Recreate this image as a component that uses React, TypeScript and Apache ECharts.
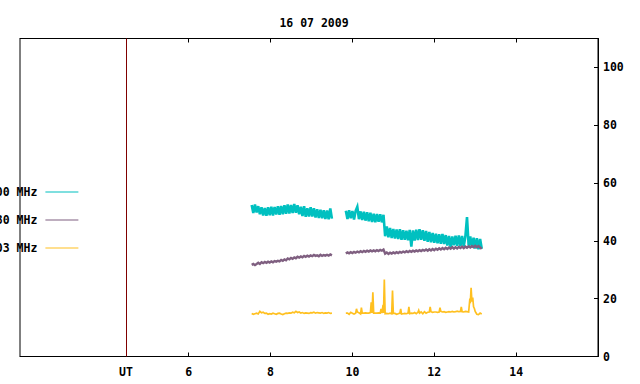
import React, { useEffect, useRef } from "react";
import * as echarts from "echarts";

const TITLE = "16 07 2009";
const SERIES_NAMES = ["2800 MHz", "1080 MHz", "1003 MHz"];
const SERIES_COLORS = ["#00c0c0", "#7f5f80", "#ffc020"];
const UT_LINE_COLOR = "#800000";

const X_MIN = 1.88;
const X_MAX = 16;
const X_TICKS = [6, 8, 10, 12, 14];
const UT_POS = 4.47;
const UT_LABEL = "UT";
const Y_MIN = 0;
const Y_MAX = 110;
const Y_TICKS = [0, 20, 40, 60, 80, 100];

// sampling grid of the two observation segments (hours UT)
const SEG1_START = 7.54;
const SEG2_START = 9.84;
const STEP = 0.04;

const cyanSeg1 = [
  52.4, 49.6, 52.6, 49.8, 52.0, 49.2, 51.6, 48.8, 51.4, 48.7,
  51.6, 48.9, 51.8, 48.8, 51.7, 49.1, 52.0, 49.0, 52.1, 49.2,
  52.3, 49.4, 52.6, 49.5, 52.4, 49.6, 52.8, 49.7, 52.3, 49.2,
  51.8, 48.6, 52.0, 48.3, 51.3, 48.4, 51.6, 48.4, 51.3, 48.1,
  50.9, 47.9, 50.8, 47.8, 50.6, 47.6, 50.5, 47.5, 51.2, 47.7,
];
const cyanSeg2 = [
  50.4, 47.6, 50.6, 47.8, 50.3, 47.4, 50.4, 51.8, 47.5, 50.2,
  47.2, 50.1, 47.0, 49.9, 46.8, 49.7, 46.5, 49.4, 46.4, 49.3,
  46.6, 49.2, 46.4, 49.0, 41.6, 45.0, 41.2, 44.5, 41.0, 44.1,
  40.8, 43.9, 40.6, 44.0, 40.4, 43.7, 40.4, 43.5, 40.2, 43.8,
  38.0, 43.6, 40.1, 43.9, 40.3, 44.0, 40.4, 43.7, 40.0, 43.4,
  39.7, 43.1, 39.5, 42.7, 39.3, 42.5, 39.2, 42.3, 39.0, 42.4,
  38.9, 42.0, 38.4, 41.7, 37.8, 41.5, 38.5, 41.8, 38.3, 41.9,
  38.2, 41.7, 38.1, 41.5, 48.2, 38.3, 41.5, 37.7, 41.1, 37.3,
  40.9, 37.1, 40.7, 37.3,
];

const purpleSeg1 = [
  31.7, 32.0, 31.6, 32.0, 32.4, 32.0, 32.6, 32.3, 32.7, 32.4,
  32.8, 32.5, 32.9, 32.6, 33.0, 32.8, 33.1, 32.9, 33.4, 33.1,
  33.6, 33.3, 33.9, 33.6, 34.1, 33.8, 34.3, 34.0, 34.5, 34.2,
  34.6, 34.3, 34.8, 34.5, 34.9, 34.6, 35.0, 34.7, 35.1, 34.8,
  35.0, 34.7, 35.2, 34.8, 35.1, 34.9, 35.2, 34.9, 35.3, 35.0,
];
const purpleSeg2 = [
  35.6, 36.0, 35.7, 36.1, 35.8, 36.2, 35.9, 36.3, 36.0, 36.4,
  36.1, 36.5, 36.2, 36.6, 36.3, 36.7, 36.4, 36.7, 36.4, 36.8,
  36.5, 36.9, 36.6, 37.0, 35.6, 36.0, 35.5, 35.9, 35.6, 36.0,
  35.7, 36.1, 35.8, 36.2, 35.9, 36.3, 36.0, 36.4, 36.1, 36.5,
  36.2, 36.6, 36.3, 36.7, 36.4, 36.8, 36.5, 36.9, 36.6, 37.0,
  36.6, 37.1, 36.7, 37.2, 36.8, 37.3, 36.9, 37.4, 37.0, 37.5,
  37.1, 37.6, 37.2, 37.7, 37.3, 37.8, 37.3, 37.8, 37.4, 37.9,
  37.5, 38.0, 37.5, 38.0, 37.6, 38.1, 37.7, 38.2, 37.8, 38.3,
  37.8, 38.2, 37.7, 37.2,
];

const yellowSeg1 = [
  14.9, 14.6, 14.8, 15.0, 14.7, 15.6, 15.1, 15.3, 14.9, 15.0,
  14.6, 14.8, 14.7, 15.0, 14.8, 14.6, 14.9, 15.0, 14.7, 14.5,
  14.8, 15.0, 14.9, 15.1, 15.0, 15.3, 15.1, 15.6, 15.2, 15.4,
  15.0, 15.2, 14.9, 15.1, 15.0, 14.9, 15.2, 15.1, 15.3, 15.0,
  15.2, 15.1, 15.0, 15.2, 14.9, 15.1, 15.0, 15.2, 14.9, 15.0,
];
const yellowSeg2 = [
  15.0, 15.0, 14.6, 15.3, 15.0, 14.7, 15.0, 15.4, 15.1, 14.7,
  15.0, 15.0, 15.1, 15.0, 15.0, 15.2, 15.1, 15.0, 15.0, 15.0,
  15.1, 15.0, 15.0, 15.1, 14.8, 14.9, 14.8, 15.0, 14.8, 14.9,
  14.9, 14.6, 14.8, 15.0, 14.7, 14.8, 14.9, 14.8, 15.0, 14.8,
  15.0, 14.9, 15.2, 14.8, 15.3, 15.0, 15.4, 14.8, 15.5, 15.0,
  15.3, 15.4, 15.5, 15.3, 15.4, 15.4, 15.3, 15.4, 15.6, 15.4,
  15.5, 15.3, 15.4, 15.5, 15.4, 15.6, 15.4, 15.5, 15.7, 15.5,
  15.6, 15.5, 15.4, 15.6, 15.5, 15.4, 18.4, 19.0, 17.2, 15.6,
  14.6, 14.5, 15.0, 14.7,
];
// short bursts seen in the third channel
const yellowSpikeTimes = [10.10, 10.22, 10.46, 10.50, 10.70, 10.75, 10.78, 10.98, 11.18, 11.38, 11.62, 11.90, 12.14, 12.66, 12.87, 12.90, 12.94, 12.98];
const yellowSpikeValues = [16.5, 16.9, 18.7, 22.2, 16.5, 17.9, 26.6, 22.8, 16.5, 17.2, 16.0, 17.2, 16.9, 17.2, 20.0, 23.8, 20.4, 16.6];

const SERIES_WIDTHS = [2.6, 2.4, 1.7];
const FONT = "'DejaVu Sans Mono', monospace";

function buildSeries(seg1: number[], seg2: number[], spikeT: number[] = [], spikeV: number[] = []) {
  const a = seg1.map((v, i) => [+(SEG1_START + i * STEP).toFixed(3), v] as [number, number | null]);
  const gapX = (SEG1_START + (seg1.length - 1) * STEP + SEG2_START) / 2;
  const b = seg2.map((v, i) => [+(SEG2_START + i * STEP).toFixed(3), v] as [number, number | null]);
  spikeT.forEach((t, i) => b.push([t, spikeV[i]]));
  b.sort((p, q) => p[0] - q[0]);
  return [...a, [gapX, null] as [number, number | null], ...b];
}

export default function App() {
  const ref = useRef<HTMLDivElement>(null);
  useEffect(() => {
    if (!ref.current) return;
    const chart = echarts.init(ref.current, undefined, { renderer: "svg" });
    const datasets = [
      buildSeries(cyanSeg1, cyanSeg2),
      buildSeries(purpleSeg1, purpleSeg2),
      buildSeries(yellowSeg1, yellowSeg2, yellowSpikeTimes, yellowSpikeValues),
    ];
    const textStyle = { fontFamily: FONT, fontSize: 11.5, fontWeight: "bold" as const, color: "#000" };
    chart.setOption({
      animation: false,
      backgroundColor: "#fff",
      title: {
        text: TITLE,
        left: 309,
        top: 12,
        textAlign: "center",
        textStyle,
      },
      legend: {
        data: SERIES_NAMES,
        orient: "vertical",
        left: -18,
        top: 186,
        padding: 0,
        align: "right",
        itemWidth: 33,
        itemHeight: 14,
        itemGap: 16,
        itemStyle: { color: "rgba(0,0,0,0)", borderWidth: 0, opacity: 0 },
        lineStyle: { width: 1.2 },
        textStyle: { ...textStyle, padding: [0, 3, 0, 0] },
        selectedMode: false,
      },
      grid: {
        left: 20,
        right: 42,
        top: 38.5,
        bottom: 27.5,
        show: true,
        borderColor: "#000",
        borderWidth: 1,
      },
      xAxis: [
        {
          type: "value",
          position: "bottom",
          min: X_MIN,
          max: X_MAX,
          splitLine: { show: false },
          axisLine: { show: true, lineStyle: { color: "#000", width: 1 } },
          axisTick: { show: true, inside: true, length: 4, customValues: X_TICKS, lineStyle: { color: "#000" } },
          axisLabel: {
            customValues: [UT_POS, ...X_TICKS],
            formatter: (v: number) => (Math.abs(v - UT_POS) < 1e-6 ? UT_LABEL : String(v)),
            margin: 9,
            ...textStyle,
          },
        },
        {
          type: "value",
          position: "top",
          min: X_MIN,
          max: X_MAX,
          splitLine: { show: false },
          axisLine: { show: true, lineStyle: { color: "#000", width: 1 } },
          axisTick: { show: true, inside: true, length: 4, customValues: X_TICKS, lineStyle: { color: "#000" } },
          axisLabel: { show: false },
        },
      ],
      yAxis: {
        type: "value",
        position: "right",
        min: Y_MIN,
        max: Y_MAX,
        splitLine: { show: false },
        axisLine: { show: true, lineStyle: { color: "#000", width: 1 } },
        axisTick: { show: true, inside: true, length: 4, customValues: Y_TICKS, lineStyle: { color: "#000" } },
        axisLabel: { customValues: Y_TICKS, margin: 5, ...textStyle },
      },
      series: datasets.map((data, i) => ({
        name: SERIES_NAMES[i],
        type: "line",
        data,
        showSymbol: false,
        symbol: "none",
        connectNulls: false,
        lineStyle: { color: SERIES_COLORS[i], width: SERIES_WIDTHS[i], join: "miter" },
        itemStyle: { color: SERIES_COLORS[i] },
        silent: true,
        markLine:
          i === 0
            ? {
                silent: true,
                symbol: ["none", "none"],
                label: { show: false },
                lineStyle: { color: UT_LINE_COLOR, width: 1, type: "solid" },
                data: [{ xAxis: UT_POS }],
              }
            : undefined,
      })),
    });
    return () => chart.dispose();
  }, []);
  return (
    <div
      ref={ref}
      style={{ position: "fixed", left: 0, top: 0, width: 640, height: 384, background: "#fff" }}
    />
  );
}
